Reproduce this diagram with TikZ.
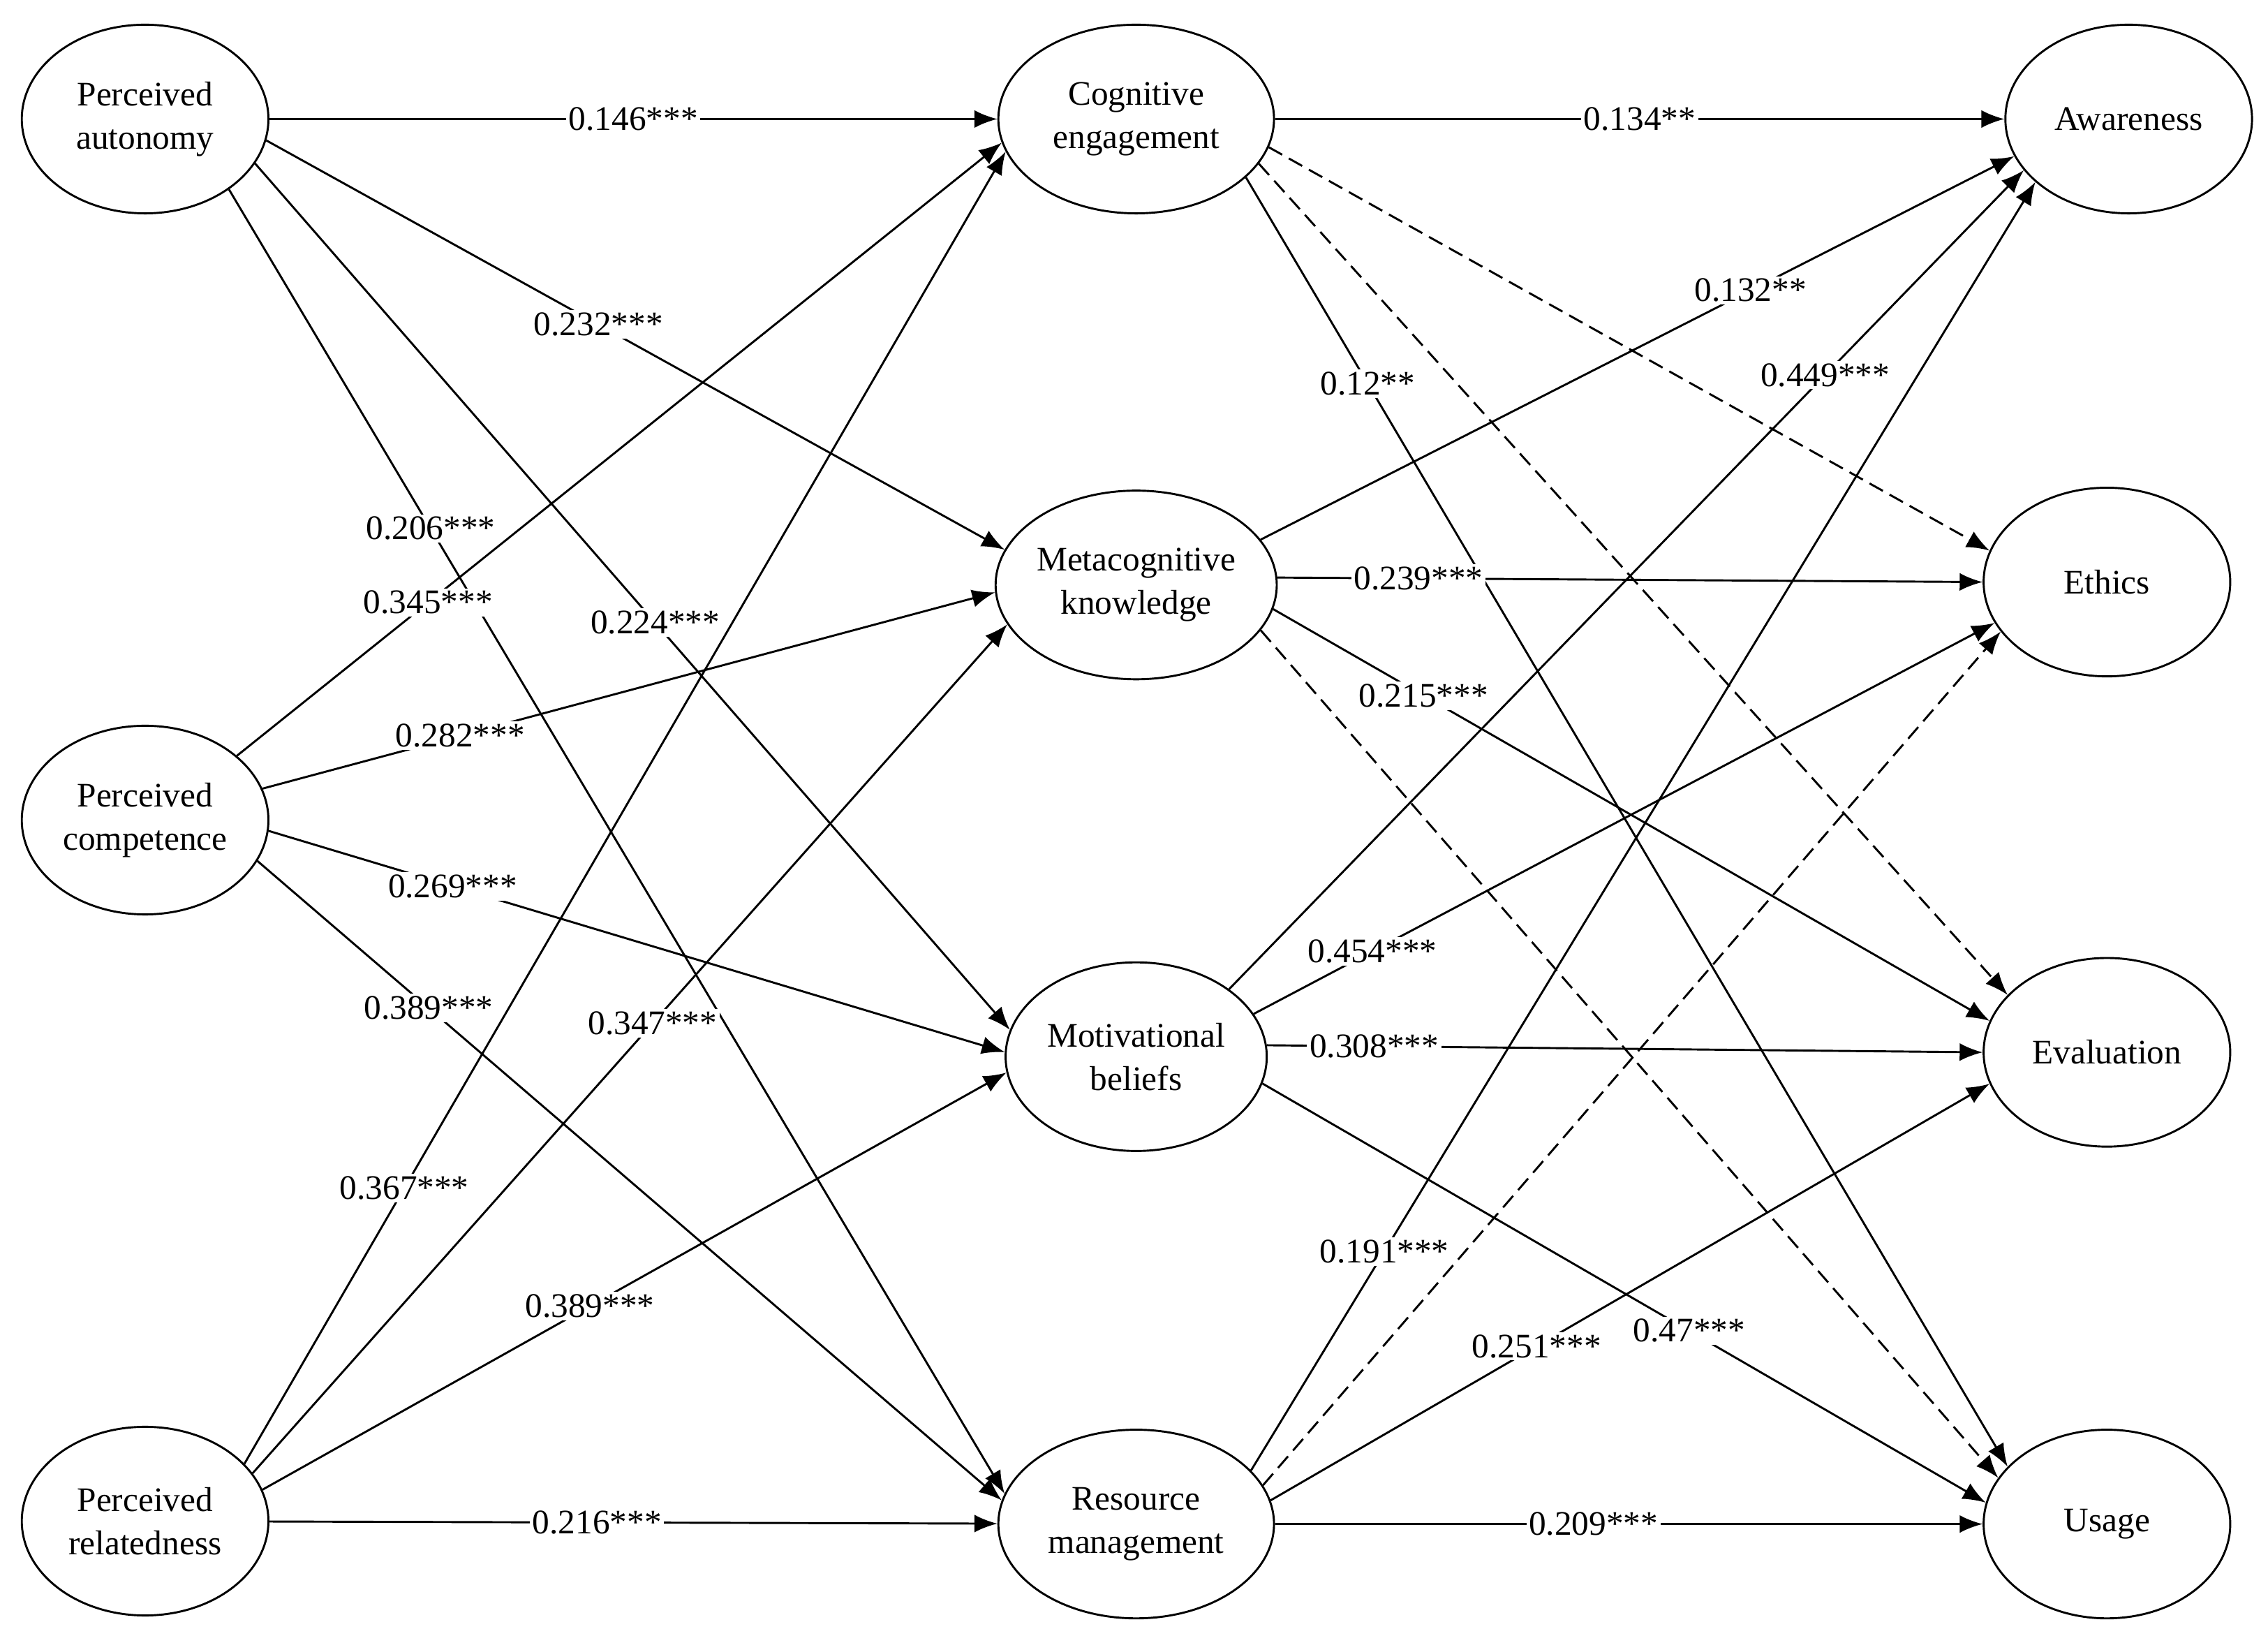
\documentclass[tikz,border=0pt]{standalone}
\usepackage{fontspec}
\setmainfont{Liberation Serif}
\usetikzlibrary{arrows.meta,shapes.geometric}
\begin{document}
\begin{tikzpicture}[x=0.02cm,y=-0.02cm,
  lat/.style={draw,ellipse,line width=0.8pt,minimum width=3.4cm,minimum height=2.6cm,align=center,font=\fontsize{13.5}{17}\selectfont,inner sep=0pt},
  e/.style={-{Latex[length=9pt,width=7pt]},line width=0.8pt},
  d/.style={e,dashed,dash pattern=on 6pt off 3pt},
  lb/.style={fill=white,inner sep=1pt,font=\fontsize{13.5}{16}\selectfont}]
\useasboundingbox (0,0) rectangle (1563,1127);
\node[lat] (pa) at (100,82) {Perceived\\autonomy};
\node[lat] (pc) at (100,565) {Perceived\\competence};
\node[lat] (pr) at (100,1048) {Perceived\\relatedness};
\node[lat,minimum width=3.8cm] (ce) at (783,82) {Cognitive\\engagement};
\node[lat,minimum width=3.8cm] (mk) at (783,403) {Metacognitive\\knowledge};
\node[lat,minimum width=3.6cm] (mb) at (783,728) {Motivational\\beliefs};
\node[lat,minimum width=3.8cm] (rm) at (783,1050) {Resource\\management};
\node[lat] (aw) at (1467,82) {Awareness};
\node[lat] (et) at (1452,401) {Ethics};
\node[lat] (ev) at (1452,725) {Evaluation};
\node[lat] (us) at (1452,1050) {Usage};
\draw[e] (pa) -- node[lb,pos=0.5]{0.146***} (ce);
\draw[e] (pa.-10) -- node[lb,pos=0.45]{0.232***} (mk.165);
\draw[e] (pa.-22) -- node[lb,pos=0.53]{0.224***} (mb.168);
\draw[e] (pa.-40) -- node[lb,pos=0.26]{0.206***} (rm.167);
\draw[e] (pc.35) -- node[lb,pos=0.25]{0.345***} (ce.190);
\draw[e] (pc.15) -- node[lb,pos=0.27]{0.282***} (mk.183);
\draw[e] (pc.-5) -- node[lb,pos=0.25]{0.269***} (mb.178);
\draw[e] (pc.-20) -- node[lb,pos=0.23]{0.389***} (rm.170);
\draw[e] (pr.30) -- node[lb,pos=0.21]{0.367***} (ce.194);
\draw[e] (pr.24) -- node[lb,pos=0.53]{0.347***} (mk.197);
\draw[e] (pr.15) -- node[lb,pos=0.44]{0.389***} (mb.187);
\draw[e] (pr) -- node[lb,pos=0.45]{0.216***} (rm);
\draw[e] (ce) -- node[lb,pos=0.5]{0.134**} (aw);
\draw[d] (ce.-12) -- (et.165);
\draw[d] (ce.-20) -- (ev.150);
\draw[e] (ce.-28) -- node[lb,pos=0.16]{0.12**} (us.150);
\draw[e] (mk.20) -- node[lb,pos=0.65]{0.132**} (aw.198);
\draw[e] (mk.3) -- node[lb,pos=0.2]{0.239***} (et.180);
\draw[e] (mk.-10) -- node[lb,pos=0.21]{0.215***} (ev.165);
\draw[d] (mk.-20) -- (us.157);
\draw[e] (mb.36) -- node[lb,pos=0.75]{0.449***} (aw.206);
\draw[e] (mb.20) -- node[lb,pos=0.16]{0.454***} (et.200);
\draw[e] (mb.5) -- node[lb,pos=0.15]{0.308***} (ev.180);
\draw[e] (mb.-12) -- node[lb,pos=0.59]{0.47***} (us.170);
\draw[e] (rm.25) -- node[lb,pos=0.17]{0.191***} (aw.214);
\draw[d] (rm.17) -- (et.205);
\draw[e] (rm.10) -- node[lb,pos=0.37]{0.251***} (ev.195);
\draw[e] (rm) -- node[lb,pos=0.45]{0.209***} (us);
\end{tikzpicture}
\end{document}
